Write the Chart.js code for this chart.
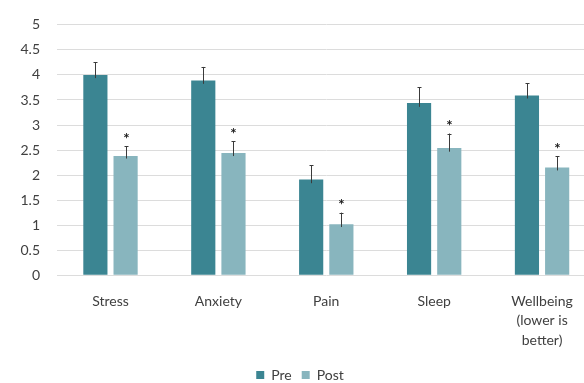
<!DOCTYPE html>
<html>
<head>
<meta charset="utf-8">
<script src="https://cdn.jsdelivr.net/npm/chart.js@4"></script>
<style>
  html, body { margin: 0; padding: 0; overflow: hidden; background: #ffffff; }
  #wrap { width: 596px; height: 392px; }
</style>
</head>
<body>
<div id="wrap"><canvas id="chart"></canvas></div>
<script>
// Mean scores before and after, with one-sided standard error whiskers
const categories = ['Stress', 'Anxiety', 'Pain', 'Sleep', ['Wellbeing', '(lower is', 'better)']];
const preValues  = [4.0, 3.89, 1.91, 3.44, 3.59];
const postValues = [2.38, 2.44, 1.02, 2.54, 2.15];
const preErrors  = [0.25, 0.27, 0.29, 0.31, 0.24];
const postErrors = [0.20, 0.24, 0.23, 0.29, 0.23];
const postSignificant = [true, true, true, true, true];
const yTickValues = [0, 0.5, 1, 1.5, 2, 2.5, 3, 3.5, 4, 4.5, 5];

const PRE_COLOR = '#3b8592';
const POST_COLOR = '#88b5be';
const TEXT_COLOR = '#404040';
const FONT = 'Lato, "Open Sans", sans-serif';

// Whiskers and significance stars drawn on top of the bars
const errorBarPlugin = {
  id: 'errorBars',
  afterDatasetsDraw(chart) {
    const ctx = chart.ctx;
    const yScale = chart.scales.y;
    chart.data.datasets.forEach((ds, di) => {
      const meta = chart.getDatasetMeta(di);
      if (meta.hidden) return;
      meta.data.forEach((bar, i) => {
        const v = ds.data[i];
        const err = ds.errors[i];
        const yTop = yScale.getPixelForValue(v + err);
        const yIn = yScale.getPixelForValue(v - err * 0.25);
        const x = Math.round(bar.x) + 0.5;
        ctx.save();
        ctx.strokeStyle = '#3a3a3a';
        ctx.lineWidth = 1;
        ctx.beginPath();
        ctx.moveTo(x, yIn);
        ctx.lineTo(x, yTop);
        ctx.moveTo(x - 2, Math.round(yTop) + 0.5);
        ctx.lineTo(x + 2, Math.round(yTop) + 0.5);
        ctx.stroke();
        if (ds.stars && ds.stars[i]) {
          ctx.fillStyle = '#1a1a1a';
          ctx.font = 'bold 15px ' + FONT;
          ctx.textAlign = 'center';
          ctx.textBaseline = 'middle';
          ctx.fillText('*', x, yTop - 7);
        }
        ctx.restore();
      });
    });
  }
};

new Chart(document.getElementById('chart'), {
  type: 'bar',
  data: {
    labels: categories,
    datasets: [
      { label: 'Pre',  data: preValues,  errors: preErrors,  backgroundColor: PRE_COLOR,
        categoryPercentage: 0.56, barPercentage: 0.8 },
      { label: 'Post', data: postValues, errors: postErrors, stars: postSignificant,
        backgroundColor: POST_COLOR, categoryPercentage: 0.56, barPercentage: 0.8 }
    ]
  },
  options: {
    responsive: true,
    maintainAspectRatio: false,
    animation: false,
    layout: { padding: { top: 6, right: 0, left: 4, bottom: 0 } },
    plugins: {
      legend: {
        position: 'bottom',
        labels: {
          boxWidth: 8, boxHeight: 8, padding: 10,
          color: TEXT_COLOR,
          font: { family: FONT, size: 14 }
        }
      },
      tooltip: { enabled: false }
    },
    scales: {
      x: {
        grid: { display: false },
        border: { display: false },
        ticks: {
          color: TEXT_COLOR, maxRotation: 0, autoSkip: false, padding: 8,
          font: { family: FONT, size: 14, lineHeight: 1.4 }
        }
      },
      y: {
        min: 0, max: 5,
        afterBuildTicks(axis) { axis.ticks = yTickValues.map(v => ({ value: v })); },
        grid: { color: '#dcdcdc', drawTicks: false, lineWidth: 1 },
        border: { display: false },
        ticks: {
          color: TEXT_COLOR, padding: 16.5,
          font: { family: FONT, size: 14 },
          callback: (value) => String(value)
        }
      }
    }
  },
  plugins: [errorBarPlugin]
});
</script>
</body>
</html>
